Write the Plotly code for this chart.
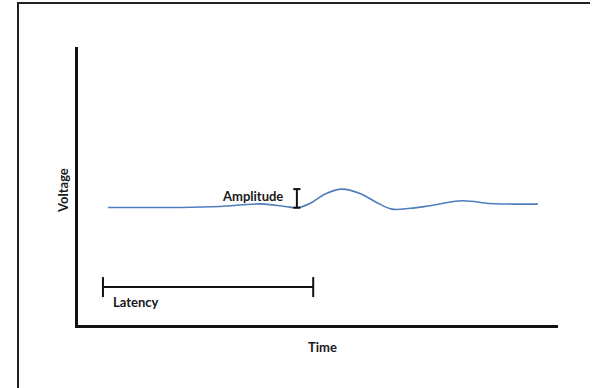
import plotly.graph_objects as go

# ---- data (time in ms, voltage in µV relative to baseline) ----
time_ms = [6.25, 12.9, 21.25, 29.6, 37.9, 43.1, 45.8, 48.3, 51.5, 55.0, 58.75,
           62.3, 65.4, 69.2, 73.3, 80.0, 85.8, 90.6, 95.8]
voltage_uv = [0.0, 0.0, 0.0, 0.25, 0.9, 0.25, -0.05, 1.0, 3.4, 4.6, 3.5,
              1.2, -0.4, -0.2, 0.45, 1.7, 1.0, 0.85, 0.85]

amplitude_t = 45.6
amplitude_lo = -0.05
amplitude_hi = 4.6
latency_start = 5.2
latency_end = 49.0
latency_v = -19.9

labels = {"x": "Time", "y": "Voltage", "amp": "Amplitude", "lat": "Latency"}

W, H = 592, 388
L, T, R, B = 78, 47, 558, 325
x_range = [0, 100]
y_range = [-29.375, 40.125]

def px(xp):
    return (xp - L) / (R - L)

def py(yp):
    return (B - yp) / (B - T)

font_family = "Lato, 'Open Sans', sans-serif"

fig = go.Figure()
fig.add_trace(go.Scatter(
    x=time_ms, y=voltage_uv, mode="lines",
    line=dict(color="#4f7dbd", width=1.6, shape="spline", smoothing=1.0),
    hoverinfo="skip", showlegend=False,
))

shapes = []
# amplitude I-bar
cap = 0.75
for (x0, y0, x1, y1) in [
    (amplitude_t, amplitude_lo, amplitude_t, amplitude_hi),
    (amplitude_t - cap, amplitude_hi, amplitude_t + cap, amplitude_hi),
    (amplitude_t - cap, amplitude_lo, amplitude_t + cap, amplitude_lo),
]:
    shapes.append(dict(type="line", xref="x", yref="y", x0=x0, y0=y0, x1=x1, y1=y1,
                       line=dict(color="#111", width=2)))
# latency bracket
tick = 2.5
for (x0, y0, x1, y1) in [
    (latency_start, latency_v, latency_end, latency_v),
    (latency_start, latency_v - tick, latency_start, latency_v + tick),
    (latency_end, latency_v - tick, latency_end, latency_v + tick),
]:
    shapes.append(dict(type="line", xref="x", yref="y", x0=x0, y0=y0, x1=x1, y1=y1,
                       line=dict(color="#111", width=2)))

fs = 13
annotations = [
    dict(text="<b>%s</b>" % labels["amp"], xref="paper", yref="paper",
         x=px(252.5), y=py(196), showarrow=False, xanchor="center", yanchor="middle",
         font=dict(size=fs, color="#1a1a1a", family=font_family)),
    dict(text="<b>%s</b>" % labels["lat"], xref="paper", yref="paper",
         x=px(111), y=py(302), showarrow=False, xanchor="left", yanchor="middle",
         font=dict(size=fs, color="#1a1a1a", family=font_family)),
    dict(text="<b>%s</b>" % labels["x"], xref="paper", yref="paper",
         x=px(322), y=py(347), showarrow=False, xanchor="center", yanchor="middle",
         font=dict(size=fs, color="#1a1a1a", family=font_family)),
    dict(text="<b>%s</b>" % labels["y"], xref="paper", yref="paper",
         x=px(63), y=py(191), showarrow=False, xanchor="center", yanchor="middle",
         textangle=-90,
         font=dict(size=fs, color="#1a1a1a", family=font_family)),
]

fig.update_layout(
    width=W, height=H,
    margin=dict(l=L, r=W - R, t=T, b=H - B, pad=0),
    paper_bgcolor="white", plot_bgcolor="white",
    shapes=shapes, annotations=annotations,
    xaxis=dict(range=x_range, showline=True, linecolor="#111", linewidth=3,
               showgrid=False, zeroline=False, showticklabels=False, ticks=""),
    yaxis=dict(range=y_range, showline=True, linecolor="#111", linewidth=3,
               showgrid=False, zeroline=False, showticklabels=False, ticks=""),
    showlegend=False,
)

# outer frame of the figure: only left and top edges, kept inside the viewport
post = (
    "document.documentElement.style.overflow='hidden';"
    "document.body.style.margin='0';document.body.style.overflow='hidden';"
    "var f=document.createElement('div');"
    "f.style.cssText='position:fixed;left:17px;top:2px;width:573px;height:386px;"
    "box-sizing:border-box;border:0;border-left:2px solid #222;border-top:2px solid #222;"
    "pointer-events:none;';"
    "document.body.appendChild(f);"
)

fig.write_html("out.html", config={"displayModeBar": False}, post_script=post)
